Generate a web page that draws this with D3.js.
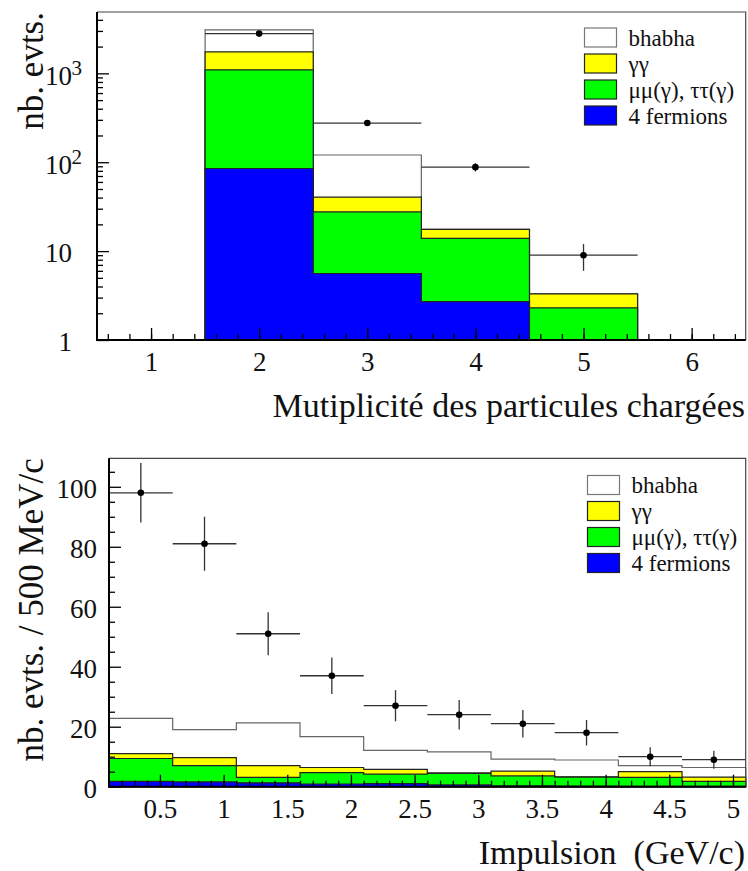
<!DOCTYPE html>
<html>
<head>
<meta charset="utf-8">
<script src="https://cdn.jsdelivr.net/npm/d3@7"></script>
<style>
  body { margin: 0; background: #fff; }
</style>
</head>
<body>
<div id="chart"></div>
<script>
// ---- top plot: charged multiplicity (log scale) ----
var multBins = [1, 2, 3, 4, 5, 6];
var multFourFermions = [0, 85, 5.6, 2.7, 0, 0];
var multMuMuTauTau = [0, 1010, 22, 11.2, 2.3, 0];
var multGammaGamma = [0, 650, 13, 3.7, 1.0, 0];
var multBhabha = [0, 1340, 80, 0, 0, 0];
var multData = [0, 2800, 276, 88, 9, 0];
var multXTicks = [1, 2, 3, 4, 5, 6];
var multYTicks = [1, 10, 100, 1000];

// ---- bottom plot: momentum (linear scale), bins of 500 MeV/c ----
var momBins = [0.35, 0.85, 1.35, 1.85, 2.35, 2.85, 3.35, 3.85, 4.35, 4.85];
var momFourFermions = [1.8, 1.6, 1.3, 0.9, 1.0, 0.6, 0.3, 0.2, 0.1, 0.1];
var momMuMuTauTau = [7.6, 5.4, 1.8, 3.8, 3.2, 3.8, 3.3, 3.0, 3.0, 1.7];
var momGammaGamma = [1.6, 2.7, 3.9, 1.7, 1.6, 0.2, 1.6, 0.1, 1.9, 1.4];
var momBhabha = [11.8, 9.3, 14.3, 10.3, 6.3, 7.0, 4.0, 5.6, 2.0, 3.2];
var momData = [98, 81, 51, 37, 27, 24, 21, 18, 10, 9];
var momXTicks = [0.5, 1, 1.5, 2, 2.5, 3, 3.5, 4, 4.5, 5];
var momYTicks = [0, 20, 40, 60, 80, 100];

var legendNames = ["bhabha", "\u03b3\u03b3", "\u03bc\u03bc(\u03b3), \u03c4\u03c4(\u03b3)", "4 fermions"];
var keys = ["fourf", "mumu", "gg", "bhabha"];
var fills = { bhabha: "#ffffff", gg: "#ffff00", mumu: "#00ff00", fourf: "#0000ff" };
var strokes = { bhabha: "#666", gg: "#222", mumu: "#222", fourf: "#222" };
var SERIF = "'Liberation Serif', 'Times New Roman', serif";

var W = 748, H = 871;
var svg = d3.select("#chart").append("svg").attr("width", W).attr("height", H);

function drawPanel(opt) {
    var g = svg.append("g");
    var x = opt.x, y = opt.y;
    var x0 = x.range()[0], x1 = x.range()[1];
    var yb = y.range()[0], yt = y.range()[1];
    var half = opt.binWidth / 2;

    // stack the backgrounds
    var rows = opt.bins.map(function(b, i) {
        return { bin: b, fourf: opt.fourf[i], mumu: opt.mumu[i], gg: opt.gg[i], bhabha: opt.bhabha[i] };
    });
    var series = d3.stack().keys(keys)(rows);

    // step area: each bin from its left edge, plus a closing point at the last right edge
    var area = d3.area()
        .curve(d3.curveStepAfter)
        .x(function(d) { return x(d.x); })
        .y0(yb)
        .y1(function(d) { return opt.yv(d.v); });

    // draw from the top layer down so each lower layer covers the one above it
    series.slice().reverse().forEach(function(s) {
        var pts = s.map(function(d) { return { x: d.data.bin - half, v: d[1] }; });
        pts.push({ x: s[s.length - 1].data.bin + half, v: s[s.length - 1][1] });
        g.append("path")
            .attr("d", area(pts))
            .attr("fill", fills[s.key])
            .attr("stroke", strokes[s.key])
            .attr("stroke-width", 1.2);
    });

    // data points with errors
    var pts = opt.bins.map(function(b, i) { return { b: b, v: opt.data[i] }; })
        .filter(function(d) { return d.v > 0; });
    var dg = g.selectAll("g.pt").data(pts).enter().append("g").attr("class", "pt");
    dg.append("line")
        .attr("x1", function(d) { return x(d.b - half); })
        .attr("x2", function(d) { return x(d.b + half); })
        .attr("y1", function(d) { return y(d.v); })
        .attr("y2", function(d) { return y(d.v); })
        .attr("stroke", "#333").attr("stroke-width", 1.3);
    dg.append("line")
        .attr("x1", function(d) { return x(d.b); })
        .attr("x2", function(d) { return x(d.b); })
        .attr("y1", function(d) { return y(d.v - Math.sqrt(d.v)); })
        .attr("y2", function(d) { return y(d.v + Math.sqrt(d.v)); })
        .attr("stroke", "#333").attr("stroke-width", 1.3);
    dg.append("circle")
        .attr("cx", function(d) { return x(d.b); })
        .attr("cy", function(d) { return y(d.v); })
        .attr("r", 3.3)
        .attr("fill", "#000");

    // frame (top/right thin)
    g.append("path")
        .attr("d", "M" + x0 + "," + yt + "H" + x1 + "V" + yb)
        .attr("fill", "none").attr("stroke", "#444").attr("stroke-width", 1.2);

    // axes, ticks drawn inwards
    var xMajor = d3.axisBottom(x).tickValues(opt.xTicks).tickSize(-12).tickPadding(12)
        .tickFormat(opt.xFormat);
    var xMinor = d3.axisBottom(x).tickValues(opt.xMinor).tickSize(-6).tickFormat("");
    var yMajor = d3.axisLeft(y).tickValues(opt.yTicks).tickSize(-12).tickPadding(opt.yPad)
        .tickFormat(opt.yFormat);
    var yMinor = d3.axisLeft(y).tickValues(opt.yMinor).tickSize(-6).tickFormat("");

    [xMinor, xMajor].forEach(function(a) {
        var ag = g.append("g").attr("transform", "translate(0," + yb + ")").call(a);
        ag.select(".domain").remove();
        ag.selectAll("line").attr("stroke", "#000").attr("stroke-width", 1.3);
        ag.selectAll("text").style("font-size", "27px").style("font-family", SERIF).style("fill", "#111");
    });
    var yAxes = [yMinor, yMajor].map(function(a) {
        var ag = g.append("g").attr("transform", "translate(" + x0 + ",0)").call(a);
        ag.select(".domain").remove();
        ag.selectAll("line").attr("stroke", "#000").attr("stroke-width", 1.3);
        ag.selectAll("text").style("font-size", "27px").style("font-family", SERIF).style("fill", "#111")
            .attr("dy", "0.4em");
        return ag;
    });
    if (opt.exponents) {
        yAxes[1].selectAll(".tick").each(function(d) {
            var e = Math.round(Math.log10(d));
            if (e >= 2) {
                d3.select(this).append("text")
                    .attr("x", -opt.yPad + 10).attr("y", 1)
                    .style("font-size", "21px").style("font-family", SERIF).style("fill", "#111")
                    .text(e);
            }
        });
    }

    // axis lines
    g.append("path")
        .attr("d", "M" + x0 + "," + yt + "V" + yb + "H" + x1)
        .attr("fill", "none").attr("stroke", "#000").attr("stroke-width", 2);

    // titles
    g.append("text")
        .attr("x", 745).attr("y", yb + 77)
        .attr("text-anchor", "end")
        .style("font-size", "34px").style("font-family", SERIF).style("fill", "#111")
        .style("white-space", "pre")
        .text(opt.xTitle);
    g.append("text")
        .attr("transform", "translate(43," + yt + ") rotate(-90)")
        .attr("text-anchor", "end")
        .style("font-size", "35px").style("font-family", SERIF).style("fill", "#111")
        .text(opt.yTitle);

    // legend
    var lg = g.append("g").attr("transform", "translate(" + opt.legX + "," + opt.legY + ")");
    ["bhabha", "gg", "mumu", "fourf"].forEach(function(k, i) {
        lg.append("rect")
            .attr("x", 0).attr("y", i * 26)
            .attr("width", 32).attr("height", 19)
            .attr("fill", fills[k])
            .attr("stroke", k === "bhabha" ? "#777" : "#222")
            .attr("stroke-width", 1.2);
        lg.append("text")
            .attr("x", 44).attr("y", i * 26 + 17.5)
            .style("font-size", "23px").style("font-family", SERIF).style("fill", "#111")
            .text(legendNames[i]);
    });
}

// top panel
var xTop = d3.scaleLinear().domain([0.5, 6.5]).range([97, 745.7]);
var yTop = d3.scaleLog().domain([1, 4900]).range([340, 12]);
drawPanel({
    x: xTop, y: yTop,
    yv: function(v) { return yTop(Math.max(v, 1)); },
    bins: multBins, binWidth: 1,
    fourf: multFourFermions, mumu: multMuMuTauTau, gg: multGammaGamma, bhabha: multBhabha,
    data: multData,
    xTicks: multXTicks, xMinor: d3.range(0.6, 6.5, 0.2),
    xFormat: d3.format("d"),
    yTicks: multYTicks,
    yMinor: yTop.ticks().filter(function(v) { return multYTicks.indexOf(v) < 0; }),
    yFormat: function(d) { return d >= 100 ? "10" : String(d); },
    yPad: 25, exponents: true,
    xTitle: "Mutiplicit\u00e9 des particules charg\u00e9es",
    yTitle: "nb. evts.",
    legX: 584.5, legY: 28
});

// bottom panel
var xBot = d3.scaleLinear().domain([0.1, 5.1]).range([109, 745.7]);
var yBot = d3.scaleLinear().domain([0, 109.5]).range([786.7, 458.3]);
drawPanel({
    x: xBot, y: yBot,
    yv: function(v) { return yBot(v); },
    bins: momBins, binWidth: 0.5,
    fourf: momFourFermions, mumu: momMuMuTauTau, gg: momGammaGamma, bhabha: momBhabha,
    data: momData,
    xTicks: momXTicks, xMinor: d3.range(0.2, 5.1, 0.1),
    xFormat: d3.format("~g"),
    yTicks: momYTicks,
    yMinor: yBot.ticks(20).filter(function(v) { return momYTicks.indexOf(v) < 0; }),
    yFormat: d3.format("d"),
    yPad: 12, exponents: false,
    xTitle: "Impulsion  (GeV/c)",
    yTitle: "nb. evts. / 500 MeV/c",
    legX: 587.5, legY: 475.5
});
</script>
</body>
</html>
